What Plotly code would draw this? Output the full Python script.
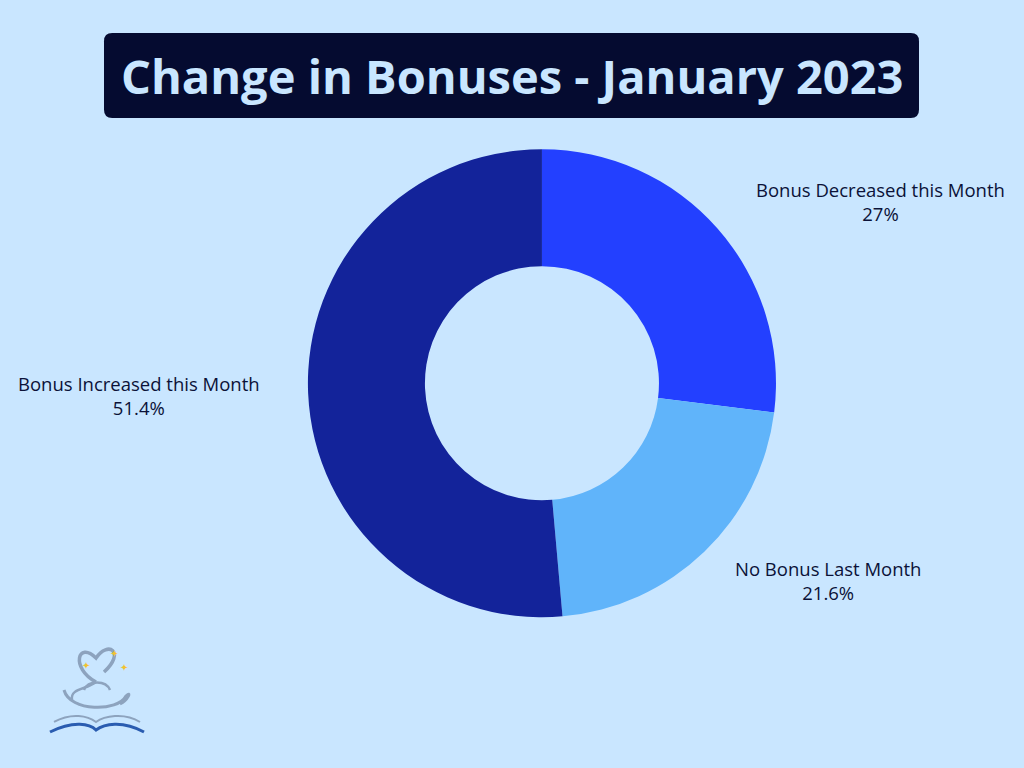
import plotly.graph_objects as go

# ______________ Data ______________
categories = ["Bonus Decreased this Month", "No Bonus Last Month", "Bonus Increased this Month"]
shares = [27, 21.6, 51.4]
colors = ["#2340FF", "#60B4FA", "#13239A"]
title_text = "Change in Bonuses - January 2023"

BG = "#C9E6FF"
INK = "#0B1238"
W, H = 1024, 768


def px2paper(x, y):
    return f"{x / W:.5f},{1 - y / H:.5f}"


def path_from(cmds):
    # cmds: list of (letter, [(x, y), ...]) in pixel coords
    out = []
    for c, pts in cmds:
        out.append(c + " " + " ".join(px2paper(x, y) for x, y in pts))
    return " ".join(out)


fig = go.Figure(go.Pie(
    labels=categories,
    values=shares,
    hole=0.5,
    sort=False,
    direction="clockwise",
    rotation=0,
    marker=dict(colors=colors, line=dict(width=0)),
    textinfo="none",
    hoverinfo="label+percent",
    domain=dict(x=[0.3007, 0.7578], y=[0.196, 0.806]),
    showlegend=False,
))

# outside labels, one per slice
label_pos = [(880, 202), (828, 580), (139, 395)]
for name, val, (px_, py_) in zip(categories, shares, label_pos):
    fig.add_annotation(
        x=px_ / W, y=1 - py_ / H, xref="paper", yref="paper",
        text=f"{name}<br>{val:g}%", showarrow=False,
        font=dict(family="Open Sans, sans-serif", size=18.5, color=INK),
        align="center", xanchor="center", yanchor="middle",
    )

# title box
x0, x1, y0, y1, r = 104 / W, 919 / W, 1 - 118 / H, 1 - 33 / H, 0.008
ry = r * W / H
fig.add_shape(
    type="path", xref="paper", yref="paper",
    path=(f"M {x0+r},{y0} L {x1-r},{y0} Q {x1},{y0} {x1},{y0+ry} "
          f"L {x1},{y1-ry} Q {x1},{y1} {x1-r},{y1} L {x0+r},{y1} "
          f"Q {x0},{y1} {x0},{y1-ry} L {x0},{y0+ry} Q {x0},{y0} {x0+r},{y0} Z"),
    fillcolor="#050B30", line=dict(width=0), layer="below",
)
fig.add_annotation(
    x=(x0 + x1) / 2, y=(y0 + y1) / 2, xref="paper", yref="paper",
    text=f"<b>{title_text}</b>", showarrow=False,
    font=dict(family="Open Sans, sans-serif", size=47, color="#C9E6FF"),
    xanchor="center", yanchor="middle",
)

# little logo, bottom left
grey = "#8DA3BE"
logo = [
    # heart with steam tail
    ([("M", [(96, 682)]), ("C", [(70, 668), (78, 640), (96, 658)]),
      ("C", [(108, 640), (126, 652), (104, 672)])], grey, 3.5, None),
    ([("M", [(96, 682)]), ("C", [(86, 690), (70, 688), (72, 700)])], grey, 2.5, None),
    # lamp body
    ([("M", [(64, 690)]), ("C", [(70, 712), (118, 712), (126, 696)]),
      ("C", [(132, 690), (128, 700), (120, 704)])], grey, 3, None),
    ([("M", [(84, 690)]), ("C", [(88, 680), (106, 680), (110, 690)])], grey, 2.5, None),
    # book pages
    ([("M", [(54, 722)]), ("C", [(72, 712), (88, 716), (96, 722)]),
      ("C", [(104, 716), (124, 712), (140, 722)])], grey, 2, None),
    ([("M", [(50, 732)]), ("C", [(74, 720), (90, 724), (96, 730)]),
      ("C", [(104, 724), (122, 720), (144, 732)])], "#2A5CB0", 3, None),
]
for cmds, col, wdt, fill in logo:
    fig.add_shape(type="path", xref="paper", yref="paper", path=path_from(cmds),
                  line=dict(color=col, width=wdt), fillcolor=fill)
for sx, sy in [(80, 674), (118, 676), (108, 662)]:
    fig.add_annotation(x=sx / W, y=1 - sy / H, xref="paper", yref="paper",
                       text="✦", showarrow=False,
                       font=dict(size=10, color="#F2C230"))

fig.update_layout(
    width=W, height=H,
    margin=dict(l=0, r=0, t=0, b=0),
    paper_bgcolor=BG, plot_bgcolor=BG,
)

fig.write_html(
    "out.html",
    config={"displayModeBar": False},
    post_script="document.body.style.margin='0';document.body.style.background='#C9E6FF';",
)
